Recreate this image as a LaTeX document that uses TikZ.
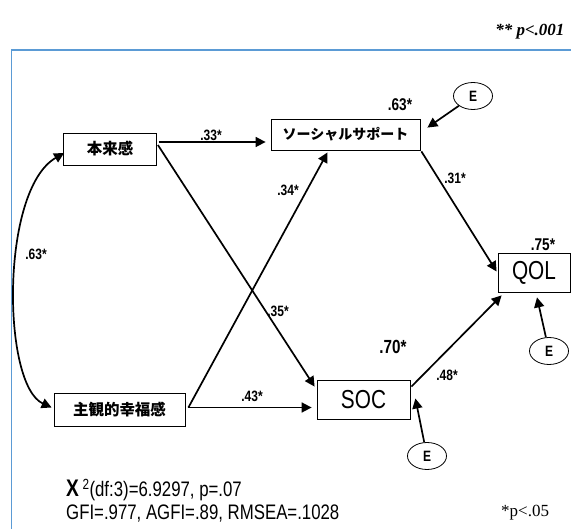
\documentclass[tikz,border=0pt]{standalone}
\usepackage{fontspec}
\setmainfont{Liberation Sans}
\newfontfamily\jpfont{Noto Sans CJK JP}
\newfontfamily\serif{Liberation Serif}
\newfontfamily\narrow{Liberation Sans}[FakeStretch=0.8]
\usetikzlibrary{arrows.meta, positioning, calc, shapes.geometric}
\definecolor{bFrame}{RGB}{91, 155, 213}
\definecolor{tDark}{RGB}{0, 0, 0}

\begin{document}
\begin{tikzpicture}[
    x=1pt, y=-1pt,
    >={Triangle[length=10pt, width=10pt]},
    block/.style={
        draw=tDark,
        line width=0.8pt,
        align=center,
        inner sep=0pt
    },
    err/.style={ellipse, draw=tDark, line width=0.8pt, minimum width=39pt,
        minimum height=27pt, inner sep=0pt, font=\narrow\fontsize{15}{15}\selectfont\bfseries},
    arrow/.style={->, line width=1.7pt, color=tDark},
    coef/.style={font=\narrow\fontsize{15}{15}\selectfont\bfseries, inner sep=0pt}
]
\useasboundingbox (0,0) rectangle (571,529);

% frame
\draw[bFrame, line width=1.2pt] (11.5,529) -- (11.5,50) -- (571,50);

\node[font=\serif\fontsize{17}{17}\selectfont\bfseries\itshape, anchor=east] (psig) at (568,32) {** p<.001};

% observed variables
\node[block, minimum width=93pt, minimum height=32pt, font=\jpfont\bfseries\fontsize{15.5}{15.5}\selectfont] (honrai) at (110,149) {本来感};
\node[block, minimum width=149pt, minimum height=31pt, font=\jpfont\bfseries\fontsize{14}{14}\selectfont] (social) at (345.5,134.5) {ソーシャルサポート};
\node[block, minimum width=131pt, minimum height=33pt, font=\jpfont\bfseries\fontsize{15.5}{15.5}\selectfont] (shukan) at (119.5,409.5) {主観的幸福感};
\node[block, minimum width=93pt, minimum height=39pt, font=\narrow\fontsize{26}{26}\selectfont] (soc) at (363.5,399.5) {SOC};
\node[block, minimum width=72pt, minimum height=39pt, font=\narrow\fontsize{26}{26}\selectfont] (qol) at (534,272.5) {QOL};

% errors
\node[err] (eSocial) at (473,96) {E};
\node[err] (eQol) at (549,351) {E};
\node[err] (eSoc) at (427,456) {E};

% paths
\draw[arrow, shorten >=5pt] ([xshift=2pt,yshift=7pt]honrai.east) -- ([yshift=7pt]honrai.east -| social.west);
\draw[arrow] ([xshift=1pt,yshift=4pt]honrai.east) -- ($(soc.north west)+(-2,7)$);
\draw[arrow] ([xshift=3pt,yshift=2pt]shukan.east) -- ($(social.south)+(-18,2)$);
\draw[arrow, shorten >=5pt] ([xshift=3pt,yshift=2pt]shukan.east) -- ([yshift=2pt]shukan.east -| soc.west);
\draw[arrow] ($(social.south east)+(1,1)$) -- ($(qol.west)+(-1,-1)$);
\draw[arrow] ($(soc.north east)+(1,7)$) -- ($(qol.south west)+(4,3)$);
\draw[arrow] (eSocial) -- ($(social.north east)+(7,9)$);
\draw[arrow] (eQol) -- ($(qol.south)+(3,5)$);
\draw[arrow] (eSoc) -- ($(soc.east)+(5,-1)$);
\draw[arrow, <->] ($(shukan.west)+(-2,-2)$) .. controls (2,385) and (0,190) .. ($(honrai.west)+(1,4)$);

% coefficients
\node[coef] (c33) at (211,135) {.33*};
\node[coef] (c34) at (288,190) {.34*};
\node[coef] (c35) at (278,311) {.35*};
\node[coef] (c43) at (252,396) {.43*};
\node[coef] (c31) at (455,178) {.31*};
\node[coef] (c48) at (447,375) {.48*};
\node[coef] (c6311) at (36,254) {.63*};
\node[coef, font=\narrow\fontsize{17}{17}\selectfont\bfseries] (r63) at (400,105) {.63*};
\node[coef, font=\narrow\fontsize{19}{19}\selectfont\bfseries] (r70) at (393,347) {.70*};
\node[coef, font=\narrow\fontsize{17}{17}\selectfont\bfseries] (r75) at (543,245) {.75*};

% fit indices
\node[anchor=west, inner sep=0pt, font=\narrow\fontsize{21}{21}\selectfont] (fit1) at (66,490) {{\fontsize{24}{24}\selectfont\bfseries Χ}\,\textsuperscript{2}(df:3)=6.9297, p=.07};
\node[anchor=west, inner sep=0pt, font=\narrow\fontsize{21}{21}\selectfont] (fit2) at (66,514) {GFI=.977, AGFI=.89, RMSEA=.1028};
\node[anchor=west, inner sep=0pt, font=\serif\fontsize{17}{17}\selectfont] (p05) at (501,513) {*p<.05};
\end{tikzpicture}
\end{document}
